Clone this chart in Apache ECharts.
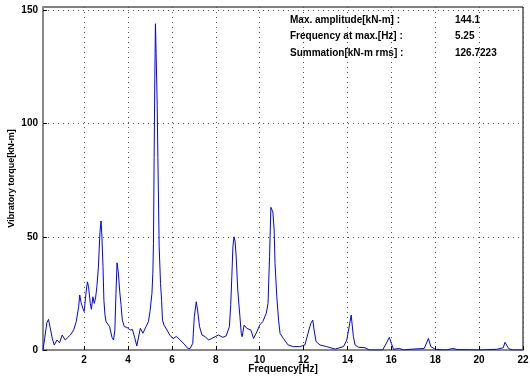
<!DOCTYPE html>
<html><head><meta charset="utf-8">
<script src="https://cdn.jsdelivr.net/npm/echarts@6/dist/echarts.min.js"></script>
<style>html,body{margin:0;padding:0;background:#fff}#c{width:530px;height:380px}</style>
</head><body><div id="c"></div>
<script>
const freq = [0.125,0.2,0.3,0.375,0.45,0.55,0.64,0.76,0.88,1.0,1.14,1.25,1.37,1.52,1.64,1.75,1.8,1.86,1.94,2.0,2.1,2.15,2.2,2.28,2.33,2.4,2.46,2.52,2.58,2.65,2.72,2.77,2.81,2.86,2.9,2.95,3.0,3.16,3.27,3.34,3.4,3.45,3.5,3.56,3.62,3.68,3.74,3.83,3.95,4.1,4.2,4.3,4.4,4.56,4.68,4.82,4.93,5.0,5.09,5.13,5.16,5.19,5.22,5.25,5.28,5.33,5.36,5.42,5.48,5.53,5.57,5.64,5.72,5.78,5.9,6.05,6.2,6.38,6.45,6.6,6.72,6.83,6.95,7.02,7.11,7.17,7.26,7.37,7.52,7.67,7.82,7.97,8.12,8.32,8.47,8.62,8.68,8.73,8.78,8.83,8.88,8.93,9.0,9.1,9.16,9.2,9.29,9.41,9.6,9.72,9.87,10.0,10.14,10.3,10.38,10.45,10.51,10.6,10.66,10.7,10.78,10.86,10.93,11.08,11.3,11.53,11.83,12.06,12.2,12.33,12.42,12.48,12.57,12.75,13.05,13.44,13.82,13.97,14.09,14.17,14.27,14.35,14.5,14.8,15.0,15.6,15.73,15.91,16.0,16.1,16.37,16.55,16.85,17.5,17.69,17.8,18.0,18.5,18.8,19.0,20.0,20.8,21.1,21.18,21.34,21.5,22.0];
const torque = [0,5,12,13.5,10,5,2.2,4.4,3.2,6.6,4.4,5.5,6.6,8.8,12.5,19.1,24.3,21,18.4,17,26.5,30.1,28,20.6,18,23.5,20.6,23,27.9,36.6,52,57,50,36.8,22,15.4,12.5,10.3,5.6,4.4,8.8,25,38.5,34,26,20,13.2,10.3,10,8.8,9.1,5.6,1.8,9.6,7.4,10.3,12.5,16.9,25,33.8,47,85,120,144.1,131,108,85,45.6,29.4,22,13.2,11,11.5,8.8,6.6,5,6,4.4,4.7,2.2,0.7,0.7,2.9,14.7,21.3,17.6,10.3,6.6,5.9,4.4,5.1,5.9,6.6,5.6,6.2,10.3,20,32.3,45.6,50,48,41,26.5,14.7,7.3,5.9,11,9.6,8.8,5.1,8,11,12.5,16.2,20.6,41.2,63,61,53,38.2,23.5,13.2,7.3,5.1,2.2,1.5,1.5,2.2,7.3,11.8,13.2,8.8,3.7,2.2,1.5,0.4,1.5,4.4,11,15.4,5.9,2.2,1.2,1,0,0,2.2,5.6,2.9,0.3,0.7,0,0.3,0.7,5.1,1.5,0.3,0,0.7,0.2,0,0.3,1,3.4,0.7,0,0];
const xTicks = [2,4,6,8,10,12,14,16,18,20,22];
const yTicks = [0,50,100,150];
const infoLabels = ['Max. amplitude[kN-m] :','Frequency at max.[Hz] :','Summation[kN-m rms] :'];
const infoValues = ['144.1','5.25','126.7223'];
const xName = 'Frequency[Hz]';
const yName = 'Vibratory torque[kN-m]';

const FONT = '"Liberation Sans", Arial, sans-serif';
const chart = echarts.init(document.getElementById('c'), null, {renderer:'canvas'});
const gridLine = {show:true, lineStyle:{color:'#555', type:[1,4], width:1}};
const infoGraphics = [];
infoLabels.forEach((t,i)=>{
  infoGraphics.push({type:'text', left:290, top:15+i*16.5, style:{text:t, font:'bold 10px '+FONT, fill:'#000'}});
  infoGraphics.push({type:'text', left:455, top:15+i*16.5, style:{text:infoValues[i], font:'bold 10px '+FONT, fill:'#000'}});
});
chart.setOption({
  animation:false,
  backgroundColor:'#fff',
  grid:{left:43, right:7, top:7, bottom:30, outerBoundsMode:'none', containLabel:false, show:true, borderColor:'#000', borderWidth:1},
  xAxis:{type:'value', min:0.125, max:22,
    name:xName, nameLocation:'middle', nameGap:14, nameMoveOverlap:false,
    nameTextStyle:{fontFamily:FONT, fontWeight:'bold', fontSize:10, color:'#000'},
    axisLine:{show:true, onZero:false, lineStyle:{color:'#888', width:2}},
    axisTick:{show:true, inside:true, length:4, customValues:xTicks, lineStyle:{color:'#000'}},
    axisLabel:{customValues:xTicks, margin:5, fontFamily:FONT, fontWeight:'bold', fontSize:10, color:'#000'},
    splitLine:gridLine},
  yAxis:{type:'value', min:0, max:151.5,
    name:yName, nameLocation:'middle', nameGap:27, nameMoveOverlap:false,
    nameTextStyle:{fontFamily:FONT, fontWeight:'bold', fontSize:9, color:'#000'},
    axisLine:{show:true, lineStyle:{color:'#888', width:2}},
    axisTick:{show:true, inside:true, length:4, customValues:yTicks, lineStyle:{color:'#000'}},
    axisLabel:{customValues:yTicks, margin:5, fontFamily:FONT, fontWeight:'bold', fontSize:10, color:'#000'},
    splitLine:gridLine},
  graphic:infoGraphics,
  series:[{type:'line', data:freq.map((f,i)=>[f,torque[i]]), showSymbol:false, symbol:'none',
    lineStyle:{color:'#0000ff', width:1}, clip:true}]
});
</script></body></html>
